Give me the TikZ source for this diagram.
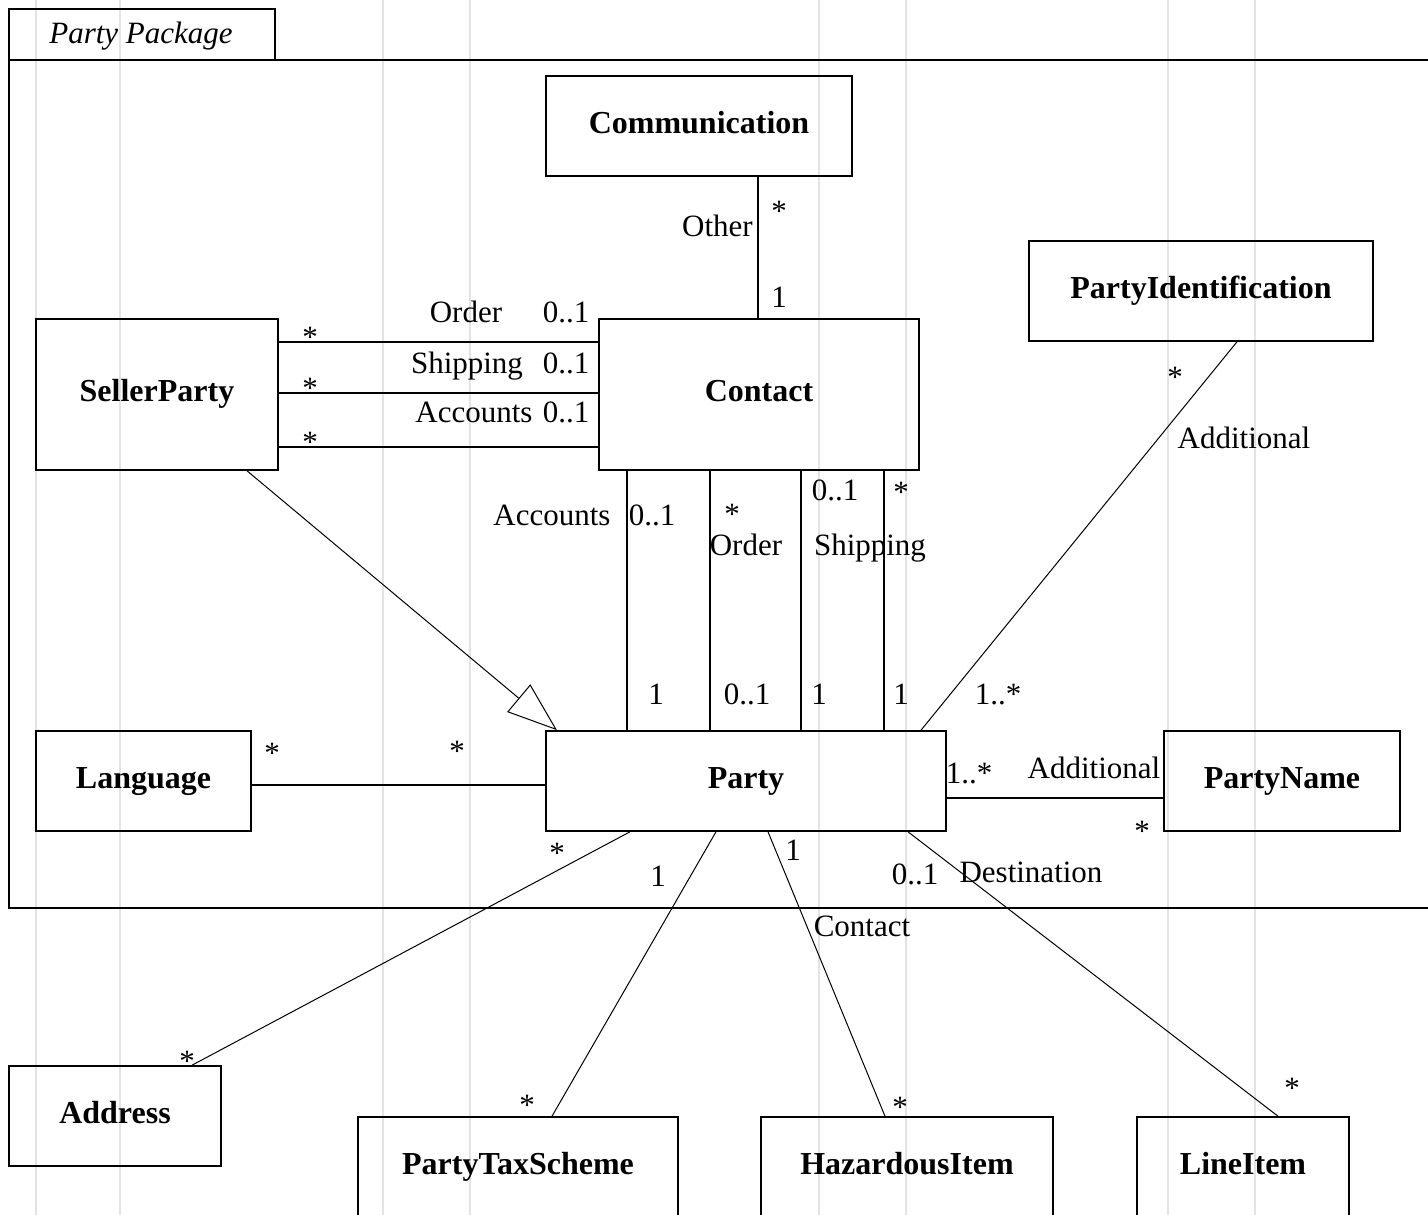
\documentclass[tikz,border=0pt]{standalone}
\usepackage{fontspec}
\setmainfont{Liberation Serif}
\usetikzlibrary{arrows.meta}
\begin{document}
\begin{tikzpicture}[x=1pt,y=-1pt,
  cls/.style={draw, line width=1.6pt, font=\fontsize{32}{38}\selectfont\bfseries,
    text height=23pt, text depth=9pt, inner sep=0pt, align=center},
  lbl/.style={font=\fontsize{31}{37}\selectfont, inner sep=0pt, text height=21pt, text depth=6pt},
  mstar/.style={font=\fontsize{31}{37}\selectfont, inner sep=0pt, text height=21pt, text depth=0pt, yshift=-4.5pt},
  assoc/.style={line width=1.5pt},
  slant/.style={line width=1pt},
  gen/.style={line width=1pt, -{Triangle[open, length=50pt, width=36pt, fill=white]}},
  guide/.style={draw=black!11, line width=2pt}
]
\clip (0,0) rectangle (1428,1215);
\fill[white] (0,0) rectangle (1428,1215);

% faint vertical guide lines
\foreach \gx in {36,120,383,470,819,906,1168,1255}
  \draw[guide] (\gx,0) -- (\gx,1215);

% package frame with its tab
\draw[line width=1.6pt] (9,60) -- (9,9) -- (275,9) -- (275,60);
\node[lbl, font=\fontsize{31}{37}\selectfont\itshape] (pkg) at (141,36) {Party Package};
\draw[line width=1.6pt] (1440,60) -- (9,60) -- (9,908) -- (1440,908);

% classes
\node[cls, minimum width=306, minimum height=100] (comm)    at (699,126)   {Communication};
\node[cls, minimum width=344, minimum height=100] (pid)     at (1201,291)  {PartyIdentification};
\node[cls, minimum width=242, minimum height=151] (seller)  at (157,394.5) {SellerParty};
\node[cls, minimum width=320, minimum height=151] (contact) at (759,394.5) {Contact};
\node[cls, minimum width=215, minimum height=100] (lang)    at (143.5,781) {Language};
\node[cls, minimum width=400, minimum height=100] (party)   at (746,781)   {Party};
\node[cls, minimum width=236, minimum height=100] (pname)   at (1282,781)  {PartyName};
\node[cls, minimum width=212, minimum height=100] (addr)    at (115,1116)  {Address};
\node[cls, minimum width=320, minimum height=100] (pts)     at (518,1167)  {PartyTaxScheme};
\node[cls, minimum width=292, minimum height=100] (haz)     at (907,1167)  {HazardousItem};
\node[cls, minimum width=212, minimum height=100] (litem)   at (1243,1167) {LineItem};

% Communication -- Contact
\draw[assoc] ([xshift=59pt]comm.south) -- ([xshift=-1pt]contact.north);
\node[lbl, anchor=east] (oth) at (753,229) {Other};
\node[mstar] (m1) at (779,206) {*};
\node[lbl] (m2) at (779,300) {1};

% SellerParty -- Contact
\draw[assoc] ([yshift=52.5pt]seller.east) -- ([yshift=52.5pt]contact.west);
\draw[assoc] ([yshift=1.5pt]seller.east) -- ([yshift=1.5pt]contact.west);
\draw[assoc] ([yshift=-52.5pt]seller.east) -- ([yshift=-52.5pt]contact.west);
\node[mstar] (s1) at (310,332) {*};
\node[mstar] (s2) at (310,383) {*};
\node[mstar] (s3) at (310,437) {*};
\node[lbl] (r1) at (466,315) {Order};
\node[lbl] (r2) at (467,366) {Shipping};
\node[lbl] (r3) at (474,415) {Accounts};
\node[lbl] (c1) at (566,315) {0..1};
\node[lbl] (c2) at (566,366) {0..1};
\node[lbl] (c3) at (566,415) {0..1};

% Contact -- Party
\draw[assoc] ([xshift=-132pt]contact.south) -- ([xshift=-119pt]party.north);
\draw[assoc] ([xshift=-49pt]contact.south) -- ([xshift=-36pt]party.north);
\draw[assoc] ([xshift=42pt]contact.south) -- ([xshift=55pt]party.north);
\draw[assoc] ([xshift=125pt]contact.south) -- ([xshift=138pt]party.north);
\node[lbl] (v1) at (552,518) {Accounts};
\node[lbl] (v2) at (652,518) {0..1};
\node[mstar] (v3) at (732,509) {*};
\node[lbl] (v4) at (746,548) {Order};
\node[lbl] (v5) at (835,493) {0..1};
\node[lbl] (v6) at (870,548) {Shipping};
\node[mstar] (v7) at (901,487) {*};
\node[lbl] (w1) at (656,697) {1};
\node[lbl] (w2) at (747,697) {0..1};
\node[lbl] (w3) at (819,697) {1};
\node[lbl] (w4) at (901,697) {1};

% SellerParty specialises Party
\draw[gen] ([xshift=90pt]seller.south) -- ([xshift=-189pt]party.north);

% Language -- Party
\draw[assoc] ([yshift=-4pt]lang.east) -- ([yshift=-4pt]party.west);
\node[mstar] (l1) at (272,748) {*};
\node[mstar] (l2) at (457,746) {*};

% Party -- PartyName
\draw[assoc] ([yshift=-17pt]party.east) -- ([yshift=-17pt]pname.west);
\node[lbl] (n1) at (969,776) {1..*};
\node[lbl] (n2) at (1094,771) {Additional};
\node[mstar] (n3) at (1142,826) {*};

% Party -- PartyIdentification
\draw[slant] ([xshift=175pt]party.north) -- ([xshift=36pt]pid.south);
\node[mstar] (i1) at (1175,372) {*};
\node[lbl] (i2) at (1244,441) {Additional};
\node[lbl] (i3) at (998,697) {1..*};

% Party -- Address
\draw[slant] ([xshift=-116pt]party.south) -- ([xshift=77pt]addr.north);
\node[mstar] (a1) at (557,848) {*};
\node[mstar] (a2) at (187,1056) {*};

% Party -- PartyTaxScheme
\draw[slant] ([xshift=-30pt]party.south) -- ([xshift=34pt]pts.north);
\node[lbl] (t1) at (658,879) {1};
\node[mstar] (t2) at (527,1100) {*};

% Party -- HazardousItem
\draw[slant] ([xshift=22pt]party.south) -- ([xshift=-22pt]haz.north);
\node[lbl] (h1) at (793,853) {1};
\node[lbl] (h2) at (862,929) {Contact};
\node[mstar] (h3) at (900,1102) {*};

% Party -- LineItem
\draw[slant] ([xshift=162pt]party.south) -- ([xshift=35pt]litem.north);
\node[lbl] (d1) at (915,877) {0..1};
\node[lbl] (d2) at (1031,875) {Destination};
\node[mstar] (d3) at (1292,1083) {*};
\end{tikzpicture}
\end{document}
